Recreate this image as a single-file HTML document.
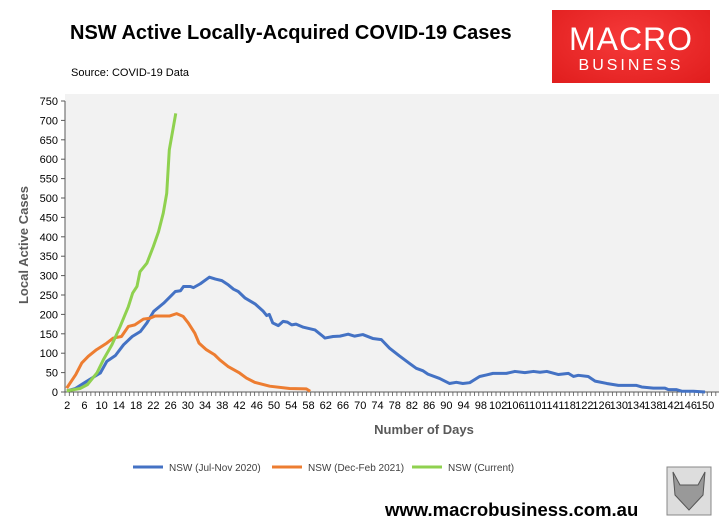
<!DOCTYPE html>
<html><head><meta charset="utf-8">
<style>
body{margin:0;width:719px;height:530px;background:#fff;position:relative;overflow:hidden;font-family:"Liberation Sans",Arial,sans-serif}
#title{position:absolute;left:70px;top:22px;font-size:20px;font-weight:bold;color:#000}
#src{position:absolute;left:71px;top:67px;font-size:11px;color:#000}
#logo{position:absolute;left:552px;top:10px;width:158px;height:73px;background:radial-gradient(ellipse at 50% 40%,#f63a3a,#e01d1d);color:#fff;text-align:center}
#url{position:absolute;left:385px;top:499px;font-size:18.5px;font-weight:bold;color:#000}
</style></head><body>
<div id="title">NSW Active Locally-Acquired COVID-19 Cases</div>
<div id="src">Source: COVID-19 Data</div>
<div id="logo">
<div style="font-size:32px;letter-spacing:1px;margin-top:12px;line-height:34px">MACRO</div>
<div style="font-size:16px;letter-spacing:3px;line-height:20px">BUSINESS</div></div>
<div id="url">www.macrobusiness.com.au</div>
<svg id="chart" width="719" height="530" style="position:absolute;left:0;top:0"></svg>
<script>
const blueDays=[2,3.9,5.9,8.2,9.7,11.2,13.2,15.1,17.1,19,20.5,22.1,24.4,26.4,27.1,28.3,29,30.6,31.3,32.9,35,36.4,37.9,39.4,40.6,41.7,43.3,45.6,47.5,48.3,48.9,49.7,51,52.1,53.1,54.1,55.1,56.8,59.5,61.4,61.8,63.7,65.3,67.2,68.7,70.6,72.9,74.9,76.8,79.1,81.4,83,84.5,85.7,88.4,90.7,92.3,93.8,95.4,97.7,99.3,100.8,103.9,105.9,108.2,110.2,111.7,113.3,116,118.3,119.5,120.6,122.9,124.5,127.2,129.9,134.1,135.3,138,140.7,141.5,143.4,144.6,147.3,150];
const blueVals=[3,9,23,39,49,79,94,122,143,156,178,208,229,251,259,261,272,272,269,279,296,291,287,276,265,259,242,227,208,197,200,178,171,182,180,173,175,167,160,143,139,143,144,149,144,148,138,135,113,93,74,61,55,46,35,22,25,22,24,40,44,48,48,53,50,53,51,53,45,48,40,43,40,28,22,17,17,13,10,10,6,6,2,2,0];
const orangeDays=[1.9,4,5.4,6.9,8.8,11.2,12.7,14.6,16.2,17.7,19.7,21.2,22.4,25.8,27.4,28.9,30.1,31.6,32.6,34.3,36.2,37.4,39.3,42,43.6,45.5,49,53.6,57.5,58.4];
const orangeVals=[10,45,75,92,109,126,139,143,169,173,188,190,196,196,202,195,178,152,126,109,96,83,66,49,36,25,15,9,8,2];
const greenDays=[1.9,5,6.7,8.9,10.4,12.4,14.3,16.2,17.2,18.2,18.9,20.5,22,23.2,24.3,25.1,25.7,27.2];
const greenVals=[3,9,19,49,83,122,169,220,255,272,310,332,375,413,461,512,624,718];
const yTicks=[0,50,100,150,200,250,300,350,400,450,500,550,600,650,700,750];
const xLabels=[];for(let d=2;d<=150;d+=4)xLabels.push(d);
const series=[["NSW (Jul-Nov 2020)","#4472c4",blueDays,blueVals],["NSW (Dec-Feb 2021)","#ed7d31",orangeDays,orangeVals],["NSW (Current)","#8fd14f",greenDays,greenVals]];
const NS="http://www.w3.org/2000/svg",svg=document.getElementById('chart');
const X0=65,Y0=392,DX=4.31;
const x=d=>X0+2.15+(d-2)*DX, y=v=>Y0-v*0.388;
function el(t,a,p){const e=document.createElementNS(NS,t);for(const k in a)e.setAttribute(k,a[k]);(p||svg).appendChild(e);return e;}
const bg=el('rect',{x:X0,y:94,width:719-X0,height:Y0-94,fill:'#f2f2f2'});


el('line',{x1:X0,y1:y(750),x2:X0,y2:Y0,stroke:'#595959','stroke-width':1});
el('line',{x1:X0,y1:Y0,x2:719,y2:Y0,stroke:'#595959','stroke-width':1});
yTicks.forEach(v=>{el('line',{x1:X0-4,y1:y(v),x2:X0,y2:y(v),stroke:'#595959'});
const t=el('text',{x:X0-7,y:y(v)+4,'text-anchor':'end','font-size':11,fill:'#000'});t.textContent=v;

});
for(let i=0;i<=151;i++){const xx=X0+i*DX;el('line',{x1:xx,y1:Y0,x2:xx,y2:Y0+4,stroke:'#595959','stroke-width':0.8});}
xLabels.forEach(d=>{const t=el('text',{x:x(d),y:Y0+17,'text-anchor':'middle','font-size':11,fill:'#000'});t.textContent=d;

});
series.forEach(([n,c,ds,vs],i)=>{const p=el('polyline',{points:ds.map((d,j)=>x(d)+','+y(vs[j])).join(' '),fill:'none',stroke:c,'stroke-width':3,'stroke-linejoin':'round'});


const lx=[133,272,412][i];
el('line',{x1:lx,y1:467,x2:lx+30,y2:467,stroke:c,'stroke-width':3});
const t=el('text',{x:lx+36,y:471,'font-size':10,fill:'#404040'});t.textContent=n;

});
const yt=el('text',{x:0,y:0,transform:'translate(28,245) rotate(-90)','text-anchor':'middle','font-size':13,'font-weight':'bold',fill:'#595959'});yt.textContent='Local Active Cases';


const xt=el('text',{x:424,y:434,'text-anchor':'middle','font-size':13,'font-weight':'bold',fill:'#595959'});xt.textContent='Number of Days';


const w=el('rect',{x:667,y:467,width:44,height:48,fill:'#ddd',stroke:'#888'});


el('path',{d:'M673 472 L680 485 L698 485 L705 472 L703 495 L689 510 L675 495 Z',fill:'#999',stroke:'#555'});
</script>
</body></html>
